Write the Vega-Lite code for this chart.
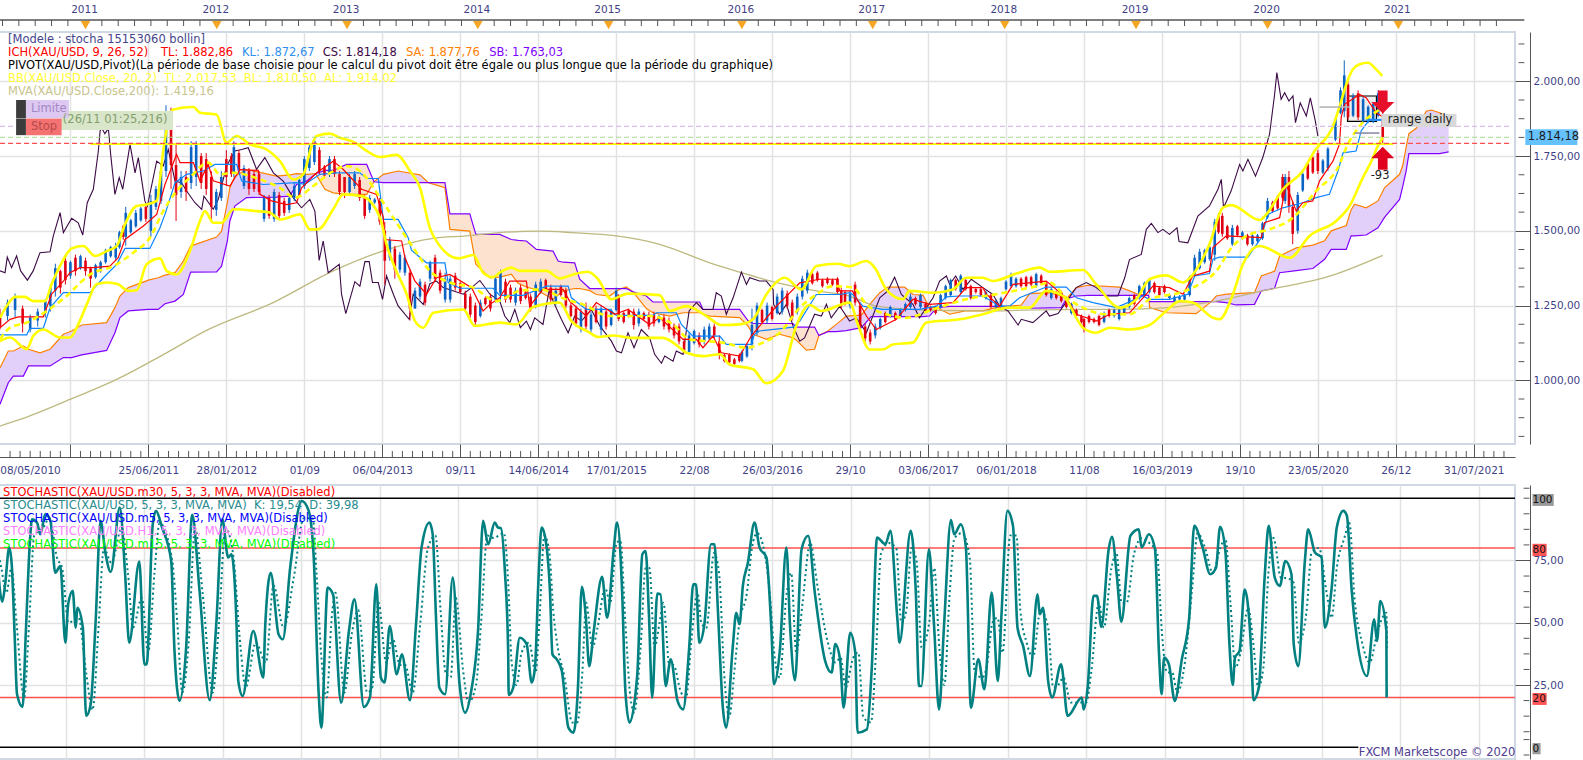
{
"$schema":"https://vega.github.io/schema/vega-lite/v6.json",
"background":"white",
"padding":{"left":-12,"top":4,"right":0,"bottom":0},
"bounds":"flush",
"spacing":41,
"resolve":{"scale":{"color":"independent"}},
"config":{"view":{"stroke":"#cfd8e3","strokeWidth":2},"text":{"font":"DejaVu Sans","fontSize":11.5},"axis":{"labelFont":"DejaVu Sans","labelFontSize":10.5,"labelColor":"#3f3f88","title":null}},
"datasets":{
"cloud":[{"w":0,"a":1042,"b":920},{"w":3.3,"a":1098,"b":992},{"w":5.3,"a":1098,"b":1014},{"w":9.3,"a":1115,"b":1014},{"w":11.3,"a":1104,"b":1048},{"w":15.9,"a":1092,"b":1048},{"w":19.9,"a":1104,"b":1048},{"w":25.2,"a":1154,"b":1076},{"w":28.5,"a":1165,"b":1076},{"w":32.5,"a":1185,"b":1085},{"w":42.4,"a":1193,"b":1100},{"w":45.7,"a":1243,"b":1159},{"w":47.7,"a":1282,"b":1210},{"w":51,"a":1310,"b":1232},{"w":59,"a":1335,"b":1237},{"w":62.9,"a":1343,"b":1237},{"w":65.6,"a":1352,"b":1256},{"w":69.6,"a":1360,"b":1265},{"w":72.9,"a":1399,"b":1287},{"w":75.8,"a":1449,"b":1362},{"w":86.1,"a":1479,"b":1363},{"w":88.1,"a":1499,"b":1382},{"w":90.4,"a":1594,"b":1466},{"w":91.4,"a":1644,"b":1533},{"w":93.4,"a":1683,"b":1583},{"w":98,"a":1705,"b":1611},{"w":110,"a":1683,"b":1613},{"w":115.3,"a":1687,"b":1616},{"w":117.9,"a":1691,"b":1655},{"w":121.9,"a":1689,"b":1666},{"w":125.5,"a":1691,"b":1691},{"w":129.2,"a":1639,"b":1702},{"w":132.5,"a":1627,"b":1702},{"w":137.8,"a":1622,"b":1722},{"w":145.8,"a":1622,"b":1722},{"w":148.7,"a":1664,"b":1664},{"w":152.4,"a":1689,"b":1661},{"w":158.3,"a":1700,"b":1661},{"w":167,"a":1687,"b":1661},{"w":170.3,"a":1661,"b":1661},{"w":176.9,"a":1644,"b":1661},{"w":178.9,"a":1505,"b":1557},{"w":186.8,"a":1499,"b":1557},{"w":189.2,"a":1388,"b":1488},{"w":194.8,"a":1343,"b":1488},{"w":198.7,"a":1345,"b":1488},{"w":203.3,"a":1355,"b":1471},{"w":206,"a":1325,"b":1468},{"w":209.3,"a":1312,"b":1466},{"w":213.3,"a":1303,"b":1438},{"w":219.9,"a":1271,"b":1432},{"w":221.9,"a":1285,"b":1399},{"w":223.9,"a":1299,"b":1395},{"w":228.5,"a":1307,"b":1393},{"w":230.5,"a":1307,"b":1338},{"w":234.5,"a":1300,"b":1307},{"w":237.1,"a":1287,"b":1307},{"w":242.4,"a":1282,"b":1307},{"w":245.1,"a":1299,"b":1307},{"w":247.1,"a":1307,"b":1307},{"w":249,"a":1312,"b":1307},{"w":251.7,"a":1296,"b":1296},{"w":257,"a":1240,"b":1282},{"w":259.6,"a":1226,"b":1262},{"w":266.3,"a":1215,"b":1262},{"w":271.6,"a":1226,"b":1262},{"w":278.2,"a":1226,"b":1262},{"w":279.5,"a":1222,"b":1237},{"w":282.2,"a":1215,"b":1237},{"w":294.1,"a":1210,"b":1237},{"w":297.4,"a":1182,"b":1200},{"w":299.4,"a":1154,"b":1190},{"w":304.7,"a":1137,"b":1190},{"w":310,"a":1154,"b":1190},{"w":315.3,"a":1142,"b":1190},{"w":316.6,"a":1135,"b":1178},{"w":320.6,"a":1101,"b":1178},{"w":323.9,"a":1104,"b":1178},{"w":325.6,"a":1150,"b":1150},{"w":329.2,"a":1165,"b":1163},{"w":332.5,"a":1187,"b":1163},{"w":336.5,"a":1215,"b":1166},{"w":342.5,"a":1218,"b":1176},{"w":346.4,"a":1260,"b":1213},{"w":349.8,"a":1293,"b":1213},{"w":353.1,"a":1312,"b":1213},{"w":359.7,"a":1312,"b":1213},{"w":363,"a":1287,"b":1213},{"w":367,"a":1285,"b":1213},{"w":369.6,"a":1243,"b":1215},{"w":372.5,"a":1243,"b":1243},{"w":377.6,"a":1221,"b":1247},{"w":384.2,"a":1233,"b":1247},{"w":390.8,"a":1232,"b":1247},{"w":396.1,"a":1243,"b":1247},{"w":400.8,"a":1247,"b":1247},{"w":406.1,"a":1252,"b":1241},{"w":409.4,"a":1290,"b":1241},{"w":417.3,"a":1293,"b":1242},{"w":422,"a":1282,"b":1243},{"w":424,"a":1272,"b":1272},{"w":428,"a":1310,"b":1282},{"w":432.6,"a":1318,"b":1284},{"w":445.2,"a":1312,"b":1284},{"w":449.2,"a":1299,"b":1284},{"w":452.5,"a":1288,"b":1284},{"w":456.7,"a":1284,"b":1284},{"w":457.1,"a":1243,"b":1263},{"w":463.7,"a":1226,"b":1263},{"w":475.6,"a":1223,"b":1263},{"w":480.3,"a":1254,"b":1263},{"w":481.6,"a":1263,"b":1263},{"w":483.6,"a":1282,"b":1263},{"w":487.6,"a":1288,"b":1260},{"w":491.5,"a":1290,"b":1252},{"w":498.8,"a":1293,"b":1254},{"w":501.5,"a":1349,"b":1299},{"w":506.8,"a":1365,"b":1308},{"w":508.8,"a":1416,"b":1360},{"w":515.4,"a":1443,"b":1367},{"w":522,"a":1452,"b":1374},{"w":526.7,"a":1467,"b":1405},{"w":529.3,"a":1500,"b":1438},{"w":535.3,"a":1518,"b":1438},{"w":537.2,"a":1570,"b":1483},{"w":538.6,"a":1589,"b":1483},{"w":543.2,"a":1577,"b":1486},{"w":547.9,"a":1600,"b":1510},{"w":550.5,"a":1644,"b":1545},{"w":556.5,"a":1689,"b":1605},{"w":557.8,"a":1720,"b":1650},{"w":559.1,"a":1780,"b":1700},{"w":560.2,"a":1825,"b":1758},{"w":563.1,"a":1843,"b":1758},{"w":567.1,"a":1900,"b":1758},{"w":569.1,"a":1904,"b":1758},{"w":572.4,"a":1895,"b":1758},{"w":576,"a":1880,"b":1764}],
"ma":[{"w":0,"p":847},{"w":8,"p":869},{"w":27.8,"p":936},{"w":46.4,"p":1003},{"w":66.2,"p":1092},{"w":82.1,"p":1167},{"w":108.6,"p":1260},{"w":132.5,"p":1366},{"w":152.4,"p":1433},{"w":172.2,"p":1475},{"w":185.5,"p":1483},{"w":198.7,"p":1494},{"w":214.6,"p":1499},{"w":227.8,"p":1494},{"w":245,"p":1483},{"w":262.3,"p":1455},{"w":282.2,"p":1393},{"w":294.1,"p":1362},{"w":307.3,"p":1330},{"w":324.6,"p":1299},{"w":337.8,"p":1282},{"w":348.4,"p":1248},{"w":370.9,"p":1234},{"w":397.4,"p":1232},{"w":404,"p":1234},{"w":457,"p":1240},{"w":483.6,"p":1265},{"w":502.1,"p":1299},{"w":530,"p":1352},{"w":549.8,"p":1418}],
"chikou":[{"w":0,"p":1366},{"w":2,"p":1360},{"w":2.9,"p":1412},{"w":4.6,"p":1377},{"w":6.6,"p":1416},{"w":8.2,"p":1366},{"w":10.9,"p":1335},{"w":13.2,"p":1366},{"w":15.9,"p":1427},{"w":19.9,"p":1430},{"w":21.2,"p":1483},{"w":23.9,"p":1561},{"w":25.2,"p":1494},{"w":28.5,"p":1542},{"w":31.1,"p":1527},{"w":32.9,"p":1486},{"w":34.7,"p":1594},{"w":37.1,"p":1639},{"w":39.1,"p":1767},{"w":39.8,"p":1834},{"w":40.4,"p":1845},{"w":41.7,"p":1825},{"w":43.1,"p":1842},{"w":44,"p":1756},{"w":45.7,"p":1622},{"w":47.4,"p":1678},{"w":48.8,"p":1639},{"w":51.7,"p":1789},{"w":53.7,"p":1694},{"w":55,"p":1745},{"w":57.6,"p":1600},{"w":58.6,"p":1583},{"w":62.3,"p":1733},{"w":64.9,"p":1717},{"w":66.9,"p":1772},{"w":69.6,"p":1666},{"w":72.2,"p":1661},{"w":74.2,"p":1633},{"w":77.5,"p":1594},{"w":80.2,"p":1572},{"w":81.1,"p":1616},{"w":84.8,"p":1572},{"w":86.8,"p":1605},{"w":90.1,"p":1717},{"w":93.4,"p":1767},{"w":96.1,"p":1772},{"w":98.7,"p":1778},{"w":102,"p":1706},{"w":105.3,"p":1745},{"w":108.7,"p":1694},{"w":112.6,"p":1666},{"w":116.6,"p":1611},{"w":119.9,"p":1577},{"w":123.2,"p":1605},{"w":125.2,"p":1566},{"w":125.9,"p":1499},{"w":126.9,"p":1401},{"w":128.5,"p":1466},{"w":130.5,"p":1360},{"w":134.9,"p":1388},{"w":135.8,"p":1288},{"w":137.5,"p":1223},{"w":141.1,"p":1330},{"w":143.1,"p":1315},{"w":145.1,"p":1397},{"w":146.8,"p":1397},{"w":148.1,"p":1327},{"w":150.4,"p":1327},{"w":152.1,"p":1271},{"w":153.7,"p":1349},{"w":156.4,"p":1288},{"w":158.3,"p":1249},{"w":162.7,"p":1204},{"w":164.3,"p":1288},{"w":168.3,"p":1254},{"w":170.9,"p":1323},{"w":173.6,"p":1332},{"w":176.2,"p":1310},{"w":184.2,"p":1288},{"w":187.5,"p":1310},{"w":190.8,"p":1334},{"w":194.8,"p":1288},{"w":198.7,"p":1265},{"w":200.7,"p":1215},{"w":202.7,"p":1193},{"w":204.7,"p":1237},{"w":206.9,"p":1176},{"w":209.3,"p":1198},{"w":210.9,"p":1170},{"w":212.6,"p":1209},{"w":215.9,"p":1187},{"w":218.3,"p":1299},{"w":219.9,"p":1265},{"w":223.2,"p":1204},{"w":225.9,"p":1159},{"w":228.5,"p":1215},{"w":231.2,"p":1198},{"w":235.1,"p":1237},{"w":238.5,"p":1182},{"w":243.1,"p":1131},{"w":245.1,"p":1098},{"w":247.1,"p":1092},{"w":249.7,"p":1159},{"w":252.1,"p":1109},{"w":255,"p":1170},{"w":258.3,"p":1142},{"w":260.3,"p":1087},{"w":263,"p":1057},{"w":264.3,"p":1081},{"w":267.6,"p":1064},{"w":268.9,"p":1098},{"w":271.6,"p":1087},{"w":274,"p":1232},{"w":276.9,"p":1260},{"w":279.5,"p":1237},{"w":283.5,"p":1237},{"w":284.8,"p":1293},{"w":286.8,"p":1282},{"w":288.8,"p":1221},{"w":291.5,"p":1276},{"w":294.8,"p":1362},{"w":296.8,"p":1321},{"w":298.1,"p":1343},{"w":302,"p":1332},{"w":304.7,"p":1332},{"w":307.4,"p":1304},{"w":307.6,"p":1254},{"w":310,"p":1221},{"w":312.7,"p":1254},{"w":315.3,"p":1182},{"w":318,"p":1131},{"w":319.9,"p":1142},{"w":323.9,"p":1221},{"w":326.6,"p":1215},{"w":328.6,"p":1254},{"w":330.5,"p":1209},{"w":333.9,"p":1248},{"w":337.8,"p":1198},{"w":340.5,"p":1209},{"w":344.5,"p":1159},{"w":349.8,"p":1276},{"w":353,"p":1299},{"w":355.7,"p":1345},{"w":358.4,"p":1287},{"w":363,"p":1254},{"w":365.6,"p":1209},{"w":371,"p":1276},{"w":373.6,"p":1332},{"w":376.3,"p":1349},{"w":377.6,"p":1321},{"w":380,"p":1349},{"w":382.9,"p":1304},{"w":386.2,"p":1338},{"w":390.8,"p":1310},{"w":394.8,"p":1287},{"w":397.5,"p":1248},{"w":400.8,"p":1232},{"w":404.8,"p":1185},{"w":406.1,"p":1204},{"w":410.7,"p":1193},{"w":416,"p":1232},{"w":417.3,"p":1215},{"w":420.7,"p":1223},{"w":423.3,"p":1254},{"w":427.9,"p":1310},{"w":431.9,"p":1327},{"w":435.9,"p":1310},{"w":439.9,"p":1282},{"w":444.5,"p":1282},{"w":447.2,"p":1343},{"w":449.1,"p":1404},{"w":453.8,"p":1421},{"w":455.8,"p":1505},{"w":457.8,"p":1525},{"w":460.4,"p":1494},{"w":462.4,"p":1505},{"w":465,"p":1488},{"w":468,"p":1510},{"w":468.8,"p":1464},{"w":472.3,"p":1460},{"w":476.3,"p":1549},{"w":480.9,"p":1583},{"w":484.3,"p":1639},{"w":485.6,"p":1672},{"w":486.5,"p":1577},{"w":489.5,"p":1633},{"w":492.9,"p":1722},{"w":494.2,"p":1700},{"w":496.2,"p":1739},{"w":499.2,"p":1683},{"w":502.1,"p":1745},{"w":504.8,"p":1823},{"w":506.8,"p":1956},{"w":507.7,"p":2029},{"w":509.4,"p":1940},{"w":510.8,"p":1962},{"w":512.5,"p":1934},{"w":514.1,"p":1951},{"w":515.1,"p":1862},{"w":517,"p":1928},{"w":519.4,"p":1884},{"w":521,"p":1945},{"w":523,"p":1867},{"w":524,"p":1817}],
"up":[{"w":0,"p":1209},{"w":2.7,"p":1249},{"w":6,"p":1279},{"w":9.9,"p":1279},{"w":13.2,"p":1265},{"w":17.9,"p":1265},{"w":20.5,"p":1321},{"w":24.5,"p":1393},{"w":28.5,"p":1441},{"w":33.1,"p":1449},{"w":37.8,"p":1416},{"w":42.4,"p":1432},{"w":46.4,"p":1449},{"w":49.7,"p":1522},{"w":54.3,"p":1583},{"w":58.3,"p":1588},{"w":62.3,"p":1600},{"w":64.9,"p":1767},{"w":66.9,"p":1867},{"w":68.9,"p":1906},{"w":76.9,"p":1914},{"w":79.5,"p":1895},{"w":86.1,"p":1889},{"w":90.1,"p":1795},{"w":94.1,"p":1817},{"w":99.4,"p":1789},{"w":106,"p":1772},{"w":111.3,"p":1733},{"w":116.6,"p":1672},{"w":120.6,"p":1689},{"w":123.9,"p":1784},{"w":125.9,"p":1817},{"w":131.2,"p":1825},{"w":135.2,"p":1811},{"w":141.1,"p":1795},{"w":145.8,"p":1767},{"w":151.1,"p":1747},{"w":157.7,"p":1754},{"w":163,"p":1700},{"w":167,"p":1644},{"w":170.9,"p":1510},{"w":174.9,"p":1449},{"w":182.2,"p":1408},{"w":188.2,"p":1419},{"w":192.1,"p":1360},{"w":196.1,"p":1345},{"w":198.7,"p":1360},{"w":203.3,"p":1377},{"w":206.6,"p":1366},{"w":217.3,"p":1366},{"w":222.5,"p":1341},{"w":227.9,"p":1354},{"w":233.8,"p":1363},{"w":237.8,"p":1338},{"w":243.1,"p":1271},{"w":249.7,"p":1290},{"w":262.3,"p":1285},{"w":266.3,"p":1232},{"w":272.9,"p":1248},{"w":280.9,"p":1215},{"w":286.8,"p":1185},{"w":294.1,"p":1187},{"w":299.4,"p":1204},{"w":304.7,"p":1287},{"w":312,"p":1343},{"w":318.6,"p":1304},{"w":324.6,"p":1382},{"w":333.2,"p":1390},{"w":337.8,"p":1382},{"w":344.5,"p":1399},{"w":347.8,"p":1377},{"w":352.4,"p":1304},{"w":359,"p":1271},{"w":361.7,"p":1299},{"w":370.9,"p":1293},{"w":378.9,"p":1304},{"w":384.2,"p":1343},{"w":390.8,"p":1343},{"w":394.8,"p":1332},{"w":404.1,"p":1357},{"w":413.4,"p":1377},{"w":417.3,"p":1363},{"w":430.6,"p":1369},{"w":435.9,"p":1321},{"w":445.2,"p":1243},{"w":451.8,"p":1271},{"w":457.1,"p":1338},{"w":463.7,"p":1351},{"w":470.4,"p":1327},{"w":474.3,"p":1354},{"w":480.9,"p":1455},{"w":486.2,"p":1577},{"w":489.6,"p":1586},{"w":500.8,"p":1536},{"w":503.5,"p":1555},{"w":510.1,"p":1639},{"w":518,"p":1700},{"w":522.7,"p":1767},{"w":530,"p":1850},{"w":533.3,"p":1934},{"w":535.3,"p":1990},{"w":537.9,"p":2040},{"w":540.6,"p":2057},{"w":543.9,"p":2062},{"w":547.2,"p":2040},{"w":549.6,"p":2018}],
"lo":[{"w":0,"p":1131},{"w":4,"p":1143},{"w":10.6,"p":1104},{"w":13.2,"p":1148},{"w":17.2,"p":1170},{"w":23.9,"p":1143},{"w":27.8,"p":1143},{"w":31.1,"p":1187},{"w":34.5,"p":1254},{"w":38.4,"p":1321},{"w":42.4,"p":1327},{"w":47,"p":1321},{"w":51,"p":1299},{"w":54.3,"p":1301},{"w":58.3,"p":1388},{"w":63.6,"p":1408},{"w":66.3,"p":1366},{"w":70.2,"p":1354},{"w":75.5,"p":1432},{"w":79.5,"p":1533},{"w":81.5,"p":1566},{"w":84.8,"p":1527},{"w":88.1,"p":1527},{"w":92.8,"p":1572},{"w":102,"p":1566},{"w":107.3,"p":1561},{"w":111.3,"p":1538},{"w":119.3,"p":1555},{"w":123.2,"p":1505},{"w":126.5,"p":1505},{"w":132.5,"p":1572},{"w":136.5,"p":1622},{"w":143.8,"p":1616},{"w":151.1,"p":1544},{"w":153.7,"p":1455},{"w":157,"p":1377},{"w":161.7,"p":1288},{"w":165,"p":1198},{"w":168.3,"p":1176},{"w":172.3,"p":1226},{"w":184.2,"p":1237},{"w":188.8,"p":1182},{"w":198.7,"p":1193},{"w":205.3,"p":1187},{"w":212,"p":1245},{"w":222.5,"p":1260},{"w":227.2,"p":1198},{"w":233.8,"p":1163},{"w":237.8,"p":1145},{"w":243.8,"p":1150},{"w":251.7,"p":1142},{"w":263.6,"p":1142},{"w":270.3,"p":1109},{"w":272.9,"p":1092},{"w":279.5,"p":1081},{"w":286.2,"p":1087},{"w":290.1,"p":1053},{"w":299.4,"p":1037},{"w":304.7,"p":990},{"w":311.3,"p":1031},{"w":316.6,"p":1182},{"w":321.9,"p":1252},{"w":326.6,"p":1232},{"w":337.8,"p":1260},{"w":341.1,"p":1187},{"w":345.8,"p":1103},{"w":351,"p":1103},{"w":355,"p":1120},{"w":363,"p":1126},{"w":368.3,"p":1193},{"w":381.5,"p":1204},{"w":390.8,"p":1221},{"w":400.8,"p":1243},{"w":409.4,"p":1243},{"w":416,"p":1299},{"w":422.7,"p":1282},{"w":430.6,"p":1176},{"w":435.9,"p":1159},{"w":441.2,"p":1176},{"w":449.2,"p":1170},{"w":457.1,"p":1185},{"w":463.7,"p":1232},{"w":469,"p":1265},{"w":474.3,"p":1260},{"w":482.3,"p":1209},{"w":484.9,"p":1204},{"w":490.2,"p":1287},{"w":494.2,"p":1388},{"w":500.8,"p":1449},{"w":512.8,"p":1410},{"w":520.7,"p":1483},{"w":531.3,"p":1533},{"w":536.6,"p":1583},{"w":541.9,"p":1678},{"w":545.9,"p":1744},{"w":547.2,"p":1772},{"w":549.8,"p":1812}],
"mid":[{"w":0,"p":1137},{"w":4,"p":1176},{"w":10.6,"p":1193},{"w":18.6,"p":1232},{"w":26.5,"p":1282},{"w":35.8,"p":1354},{"w":45.1,"p":1382},{"w":53,"p":1427},{"w":59.6,"p":1477},{"w":64.9,"p":1566},{"w":70.2,"p":1633},{"w":75.5,"p":1678},{"w":82.8,"p":1728},{"w":87.5,"p":1689},{"w":92.8,"p":1694},{"w":103.4,"p":1672},{"w":111.3,"p":1644},{"w":117.3,"p":1611},{"w":124.6,"p":1650},{"w":132.5,"p":1700},{"w":137.8,"p":1717},{"w":143.1,"p":1700},{"w":152.4,"p":1594},{"w":159,"p":1510},{"w":164.3,"p":1444},{"w":170.9,"p":1366},{"w":178.9,"p":1327},{"w":188.2,"p":1310},{"w":197.4,"p":1265},{"w":206.6,"p":1299},{"w":214.6,"p":1304},{"w":225.2,"p":1270},{"w":231.8,"p":1254},{"w":242.4,"p":1215},{"w":258.3,"p":1215},{"w":267.6,"p":1187},{"w":274.2,"p":1137},{"w":280.9,"p":1131},{"w":287.5,"p":1126},{"w":296.8,"p":1109},{"w":303.4,"p":1126},{"w":310,"p":1159},{"w":318,"p":1243},{"w":324.6,"p":1287},{"w":331.2,"p":1315},{"w":339.1,"p":1310},{"w":344.5,"p":1254},{"w":352.4,"p":1221},{"w":360.3,"p":1209},{"w":370.9,"p":1237},{"w":384.2,"p":1271},{"w":397.4,"p":1290},{"w":412,"p":1315},{"w":417.3,"p":1327},{"w":424,"p":1276},{"w":430.6,"p":1243},{"w":439.9,"p":1221},{"w":449.2,"p":1221},{"w":457.1,"p":1271},{"w":469,"p":1293},{"w":474.3,"p":1310},{"w":483.6,"p":1365},{"w":490.2,"p":1449},{"w":496.9,"p":1488},{"w":504.8,"p":1505},{"w":514.1,"p":1544},{"w":523.3,"p":1633},{"w":532.6,"p":1722},{"w":535.3,"p":1778},{"w":540.6,"p":1850},{"w":548.5,"p":1906},{"w":549.8,"p":1914}],
"kijun":[{"w":0,"p":1152},{"w":10.6,"p":1152},{"w":11.9,"p":1174},{"w":17.2,"p":1174},{"w":19.9,"p":1243},{"w":25.2,"p":1293},{"w":35.8,"p":1293},{"w":41.1,"p":1343},{"w":46.4,"p":1388},{"w":49.7,"p":1441},{"w":59.6,"p":1441},{"w":63.6,"p":1510},{"w":65.6,"p":1555},{"w":69.6,"p":1661},{"w":74.2,"p":1689},{"w":80.8,"p":1700},{"w":85.5,"p":1722},{"w":94.1,"p":1722},{"w":96.1,"p":1667},{"w":104.7,"p":1655},{"w":117.9,"p":1661},{"w":121.2,"p":1655},{"w":127.2,"p":1689},{"w":133.8,"p":1694},{"w":143.1,"p":1694},{"w":145.8,"p":1675},{"w":150.4,"p":1675},{"w":152.4,"p":1538},{"w":158.3,"p":1538},{"w":162.3,"p":1477},{"w":163.6,"p":1435},{"w":169.6,"p":1393},{"w":176.9,"p":1393},{"w":178.2,"p":1327},{"w":182.9,"p":1308},{"w":196.1,"p":1308},{"w":198.7,"p":1284},{"w":208,"p":1284},{"w":217.3,"p":1315},{"w":225.9,"p":1315},{"w":227.2,"p":1276},{"w":233.1,"p":1237},{"w":242.4,"p":1237},{"w":245.1,"p":1217},{"w":259.6,"p":1217},{"w":261,"p":1226},{"w":268.9,"p":1226},{"w":270.9,"p":1187},{"w":275.5,"p":1148},{"w":286.2,"p":1148},{"w":288.8,"p":1120},{"w":298.7,"p":1120},{"w":300,"p":1154},{"w":302,"p":1165},{"w":311.3,"p":1174},{"w":315.3,"p":1178},{"w":318,"p":1198},{"w":324.6,"p":1287},{"w":333.9,"p":1287},{"w":337.8,"p":1293},{"w":339.1,"p":1287},{"w":343.1,"p":1248},{"w":351,"p":1237},{"w":365.6,"p":1237},{"w":372.3,"p":1248},{"w":376.3,"p":1279},{"w":381.6,"p":1282},{"w":390.8,"p":1282},{"w":397.5,"p":1248},{"w":401.4,"p":1248},{"w":405.4,"p":1276},{"w":416,"p":1312},{"w":424,"p":1312},{"w":428,"p":1276},{"w":434.6,"p":1260},{"w":443.9,"p":1243},{"w":454.4,"p":1282},{"w":457.1,"p":1271},{"w":465,"p":1271},{"w":472.3,"p":1288},{"w":475,"p":1349},{"w":480.9,"p":1357},{"w":482.3,"p":1405},{"w":484.9,"p":1412},{"w":496.2,"p":1412},{"w":501.5,"p":1477},{"w":504.1,"p":1555},{"w":510.1,"p":1577},{"w":518,"p":1594},{"w":523.3,"p":1611},{"w":528.6,"p":1622},{"w":532,"p":1700},{"w":534,"p":1761},{"w":539.2,"p":1767},{"w":541.2,"p":1834},{"w":544.6,"p":1873},{"w":549.9,"p":1873}],
"tenkan":[{"w":0,"p":1176},{"w":4,"p":1204},{"w":7.3,"p":1212},{"w":17.2,"p":1212},{"w":20.5,"p":1288},{"w":25.2,"p":1332},{"w":27.8,"p":1360},{"w":31.8,"p":1377},{"w":37.1,"p":1377},{"w":43.7,"p":1382},{"w":47,"p":1410},{"w":49.7,"p":1471},{"w":57,"p":1516},{"w":62.3,"p":1555},{"w":65.6,"p":1655},{"w":70.2,"p":1756},{"w":71.6,"p":1728},{"w":76.9,"p":1728},{"w":79.5,"p":1667},{"w":82.8,"p":1722},{"w":84.8,"p":1667},{"w":91.4,"p":1650},{"w":95.4,"p":1705},{"w":102.7,"p":1702},{"w":103.4,"p":1622},{"w":108,"p":1600},{"w":114,"p":1588},{"w":117.9,"p":1594},{"w":119.9,"p":1644},{"w":125.9,"p":1694},{"w":132.5,"p":1733},{"w":136.5,"p":1705},{"w":143.8,"p":1639},{"w":149.7,"p":1622},{"w":152.4,"p":1544},{"w":153,"p":1471},{"w":159.7,"p":1466},{"w":161,"p":1410},{"w":165,"p":1332},{"w":169.6,"p":1288},{"w":173.6,"p":1343},{"w":178.9,"p":1354},{"w":187.5,"p":1310},{"w":192.1,"p":1232},{"w":194.8,"p":1254},{"w":198.7,"p":1276},{"w":202.7,"p":1332},{"w":209.3,"p":1332},{"w":210.6,"p":1248},{"w":215.9,"p":1304},{"w":223.9,"p":1304},{"w":226.5,"p":1265},{"w":233.1,"p":1215},{"w":237.1,"p":1260},{"w":244.4,"p":1221},{"w":249.7,"p":1237},{"w":258.3,"p":1187},{"w":262.3,"p":1210},{"w":271.6,"p":1137},{"w":276.9,"p":1137},{"w":279.5,"p":1109},{"w":283.5,"p":1148},{"w":286.8,"p":1092},{"w":294.1,"p":1081},{"w":298.7,"p":1148},{"w":308.7,"p":1248},{"w":318,"p":1326},{"w":325.9,"p":1338},{"w":332.5,"p":1338},{"w":333.9,"p":1299},{"w":338.9,"p":1299},{"w":344.5,"p":1215},{"w":348.4,"p":1170},{"w":356.4,"p":1204},{"w":363,"p":1271},{"w":369.6,"p":1254},{"w":378.9,"p":1260},{"w":384.2,"p":1310},{"w":390.8,"p":1310},{"w":392.2,"p":1288},{"w":397.5,"p":1248},{"w":402.8,"p":1321},{"w":416,"p":1332},{"w":424,"p":1276},{"w":428,"p":1221},{"w":435.9,"p":1198},{"w":441.2,"p":1221},{"w":449.2,"p":1226},{"w":455.8,"p":1288},{"w":458.4,"p":1315},{"w":465,"p":1310},{"w":470.4,"p":1288},{"w":474.3,"p":1349},{"w":480.9,"p":1365},{"w":482.3,"p":1444},{"w":487.6,"p":1483},{"w":501.5,"p":1477},{"w":502.8,"p":1527},{"w":508.8,"p":1544},{"w":511.4,"p":1655},{"w":515.4,"p":1566},{"w":518,"p":1594},{"w":522,"p":1600},{"w":524.7,"p":1667},{"w":530,"p":1733},{"w":532.6,"p":1790},{"w":533.3,"p":1880},{"w":534.6,"p":1923},{"w":540.6,"p":1956},{"w":543.2,"p":1945},{"w":547.2,"p":1895},{"w":549.6,"p":1882}],
"bars":[{"w":0,"l":1170,"h":1240,"o":1210,"c":1180},{"w":3,"l":1200,"h":1270,"o":1215,"c":1260},{"w":6,"l":1210,"h":1290,"o":1235,"c":1275},{"w":9,"l":1160,"h":1250,"o":1240,"c":1190},{"w":12,"l":1160,"h":1220,"o":1170,"c":1210},{"w":15,"l":1180,"h":1240,"o":1200,"c":1230},{"w":18,"l":1210,"h":1270,"o":1225,"c":1265},{"w":20,"l":1230,"h":1320,"o":1250,"c":1310},{"w":22,"l":1280,"h":1390,"o":1300,"c":1375},{"w":24,"l":1290,"h":1370,"o":1365,"c":1310},{"w":26,"l":1320,"h":1420,"o":1400,"c":1335},{"w":28,"l":1340,"h":1400,"o":1350,"c":1395},{"w":30,"l":1350,"h":1420,"o":1410,"c":1365},{"w":32,"l":1370,"h":1420,"o":1375,"c":1415},{"w":34,"l":1350,"h":1410,"o":1400,"c":1365},{"w":36,"l":1310,"h":1380,"o":1375,"c":1340},{"w":38,"l":1340,"h":1390,"o":1345,"c":1385},{"w":40,"l":1360,"h":1400,"o":1365,"c":1395},{"w":42,"l":1390,"h":1440,"o":1395,"c":1435},{"w":44,"l":1410,"h":1450,"o":1415,"c":1445},{"w":46,"l":1400,"h":1460,"o":1410,"c":1450},{"w":47.5,"l":1440,"h":1500,"o":1445,"c":1495},{"w":49,"l":1470,"h":1520,"o":1515,"c":1480},{"w":50,"l":1450,"h":1580,"o":1480,"c":1560},{"w":52,"l":1490,"h":1540,"o":1495,"c":1535},{"w":54,"l":1510,"h":1570,"o":1515,"c":1560},{"w":56,"l":1530,"h":1580,"o":1535,"c":1575},{"w":58,"l":1530,"h":1590,"o":1580,"c":1540},{"w":60,"l":1480,"h":1620,"o":1500,"c":1600},{"w":62,"l":1570,"h":1650,"o":1580,"c":1640},{"w":64,"l":1590,"h":1720,"o":1600,"c":1700},{"w":66,"l":1680,"h":1920,"o":1700,"c":1880},{"w":68,"l":1640,"h":1912,"o":1880,"c":1720},{"w":70,"l":1533,"h":1790,"o":1720,"c":1620},{"w":72,"l":1610,"h":1700,"o":1630,"c":1680},{"w":74,"l":1600,"h":1700,"o":1680,"c":1630},{"w":76,"l":1640,"h":1800,"o":1660,"c":1780},{"w":78,"l":1650,"h":1800,"o":1680,"c":1790},{"w":80,"l":1640,"h":1760,"o":1750,"c":1660},{"w":82,"l":1620,"h":1760,"o":1740,"c":1640},{"w":84,"l":1530,"h":1700,"o":1680,"c":1580},{"w":86,"l":1550,"h":1640,"o":1570,"c":1630},{"w":88,"l":1600,"h":1700,"o":1610,"c":1680},{"w":90,"l":1650,"h":1770,"o":1740,"c":1680},{"w":92,"l":1680,"h":1760,"o":1750,"c":1690},{"w":93,"l":1680,"h":1800,"o":1690,"c":1780},{"w":95,"l":1690,"h":1770,"o":1760,"c":1700},{"w":97,"l":1640,"h":1720,"o":1650,"c":1710},{"w":99,"l":1620,"h":1710,"o":1700,"c":1640},{"w":101,"l":1630,"h":1700,"o":1690,"c":1640},{"w":103,"l":1620,"h":1700,"o":1690,"c":1630},{"w":105,"l":1530,"h":1620,"o":1540,"c":1610},{"w":107,"l":1540,"h":1620,"o":1610,"c":1550},{"w":109,"l":1530,"h":1640,"o":1540,"c":1630},{"w":111,"l":1540,"h":1630,"o":1620,"c":1550},{"w":113,"l":1550,"h":1610,"o":1600,"c":1560},{"w":115,"l":1560,"h":1620,"o":1570,"c":1610},{"w":117,"l":1600,"h":1660,"o":1610,"c":1650},{"w":119,"l":1610,"h":1680,"o":1620,"c":1670},{"w":121,"l":1640,"h":1750,"o":1650,"c":1740},{"w":123,"l":1700,"h":1790,"o":1710,"c":1780},{"w":125,"l":1720,"h":1810,"o":1730,"c":1800},{"w":127,"l":1690,"h":1780,"o":1770,"c":1700},{"w":129,"l":1680,"h":1720,"o":1715,"c":1685},{"w":131,"l":1680,"h":1750,"o":1690,"c":1740},{"w":133,"l":1680,"h":1750,"o":1740,"c":1690},{"w":135,"l":1620,"h":1700,"o":1690,"c":1630},{"w":137,"l":1610,"h":1680,"o":1680,"c":1630},{"w":139,"l":1620,"h":1690,"o":1630,"c":1680},{"w":141,"l":1640,"h":1700,"o":1650,"c":1690},{"w":143,"l":1600,"h":1680,"o":1670,"c":1610},{"w":145,"l":1540,"h":1620,"o":1610,"c":1550},{"w":147,"l":1560,"h":1620,"o":1570,"c":1610},{"w":149,"l":1590,"h":1610,"o":1595,"c":1605},{"w":151,"l":1520,"h":1610,"o":1600,"c":1530},{"w":153,"l":1320,"h":1530,"o":1500,"c":1400},{"w":155,"l":1400,"h":1480,"o":1410,"c":1470},{"w":157,"l":1340,"h":1450,"o":1440,"c":1370},{"w":159,"l":1360,"h":1430,"o":1370,"c":1420},{"w":161,"l":1350,"h":1420,"o":1360,"c":1410},{"w":163,"l":1200,"h":1370,"o":1360,"c":1240},{"w":165,"l":1240,"h":1310,"o":1240,"c":1300},{"w":167,"l":1270,"h":1340,"o":1280,"c":1330},{"w":169,"l":1250,"h":1330,"o":1320,"c":1260},{"w":171,"l":1330,"h":1400,"o":1340,"c":1395},{"w":173,"l":1330,"h":1420,"o":1410,"c":1340},{"w":175,"l":1290,"h":1370,"o":1360,"c":1300},{"w":177,"l":1260,"h":1360,"o":1270,"c":1340},{"w":179,"l":1260,"h":1350,"o":1270,"c":1340},{"w":181,"l":1300,"h":1360,"o":1350,"c":1310},{"w":183,"l":1290,"h":1330,"o":1325,"c":1295},{"w":185,"l":1230,"h":1300,"o":1290,"c":1240},{"w":187,"l":1210,"h":1290,"o":1280,"c":1220},{"w":189,"l":1180,"h":1260,"o":1250,"c":1195},{"w":191,"l":1210,"h":1270,"o":1215,"c":1260},{"w":193,"l":1250,"h":1280,"o":1275,"c":1255},{"w":195,"l":1230,"h":1290,"o":1280,"c":1240},{"w":197,"l":1260,"h":1350,"o":1270,"c":1340},{"w":199,"l":1260,"h":1370,"o":1290,"c":1360},{"w":201,"l":1260,"h":1340,"o":1330,"c":1270},{"w":203,"l":1260,"h":1320,"o":1310,"c":1270},{"w":205,"l":1250,"h":1310,"o":1260,"c":1300},{"w":207,"l":1255,"h":1320,"o":1310,"c":1265},{"w":209,"l":1270,"h":1300,"o":1295,"c":1275},{"w":211,"l":1230,"h":1290,"o":1280,"c":1240},{"w":213,"l":1240,"h":1330,"o":1250,"c":1320},{"w":215,"l":1290,"h":1340,"o":1295,"c":1330},{"w":217,"l":1300,"h":1340,"o":1335,"c":1305},{"w":219,"l":1260,"h":1320,"o":1310,"c":1270},{"w":221,"l":1250,"h":1310,"o":1260,"c":1300},{"w":223,"l":1280,"h":1320,"o":1315,"c":1285},{"w":225,"l":1240,"h":1310,"o":1300,"c":1250},{"w":227,"l":1210,"h":1260,"o":1250,"c":1215},{"w":229,"l":1180,"h":1250,"o":1240,"c":1190},{"w":231,"l":1160,"h":1240,"o":1170,"c":1230},{"w":233,"l":1170,"h":1260,"o":1240,"c":1180},{"w":235,"l":1160,"h":1230,"o":1170,"c":1220},{"w":237,"l":1190,"h":1250,"o":1240,"c":1195},{"w":239,"l":1150,"h":1250,"o":1170,"c":1240},{"w":241,"l":1170,"h":1240,"o":1230,"c":1180},{"w":243,"l":1180,"h":1240,"o":1185,"c":1235},{"w":245,"l":1230,"h":1310,"o":1235,"c":1300},{"w":246,"l":1198,"h":1288,"o":1285,"c":1205},{"w":248,"l":1190,"h":1230,"o":1225,"c":1195},{"w":250,"l":1210,"h":1240,"o":1235,"c":1215},{"w":252,"l":1170,"h":1240,"o":1230,"c":1185},{"w":254,"l":1180,"h":1240,"o":1190,"c":1230},{"w":256,"l":1200,"h":1230,"o":1225,"c":1205},{"w":258,"l":1170,"h":1230,"o":1220,"c":1180},{"w":260,"l":1180,"h":1230,"o":1220,"c":1190},{"w":262,"l":1190,"h":1220,"o":1195,"c":1215},{"w":264,"l":1170,"h":1220,"o":1210,"c":1180},{"w":266,"l":1160,"h":1210,"o":1200,"c":1170},{"w":268,"l":1140,"h":1190,"o":1180,"c":1150},{"w":270,"l":1120,"h":1190,"o":1180,"c":1130},{"w":272,"l":1090,"h":1140,"o":1130,"c":1100},{"w":274,"l":1085,"h":1160,"o":1095,"c":1150},{"w":276,"l":1120,"h":1170,"o":1125,"c":1165},{"w":278,"l":1110,"h":1160,"o":1150,"c":1120},{"w":280,"l":1120,"h":1180,"o":1130,"c":1170},{"w":282,"l":1130,"h":1190,"o":1140,"c":1180},{"w":284,"l":1140,"h":1190,"o":1180,"c":1150},{"w":286,"l":1070,"h":1150,"o":1130,"c":1085},{"w":288,"l":1060,"h":1090,"o":1085,"c":1065},{"w":290,"l":1050,"h":1090,"o":1085,"c":1060},{"w":292,"l":1050,"h":1075,"o":1070,"c":1055},{"w":294,"l":1060,"h":1090,"o":1085,"c":1065},{"w":295,"l":1060,"h":1100,"o":1065,"c":1095},{"w":297,"l":1075,"h":1120,"o":1080,"c":1115},{"w":299,"l":1100,"h":1240,"o":1120,"c":1185},{"w":301,"l":1150,"h":1260,"o":1160,"c":1250},{"w":303,"l":1190,"h":1240,"o":1235,"c":1195},{"w":305,"l":1190,"h":1260,"o":1200,"c":1250},{"w":307,"l":1200,"h":1250,"o":1245,"c":1205},{"w":309,"l":1220,"h":1290,"o":1225,"c":1280},{"w":311,"l":1220,"h":1310,"o":1230,"c":1300},{"w":313,"l":1240,"h":1300,"o":1290,"c":1250},{"w":315,"l":1200,"h":1270,"o":1260,"c":1210},{"w":317,"l":1220,"h":1290,"o":1230,"c":1280},{"w":319,"l":1270,"h":1350,"o":1280,"c":1340},{"w":321,"l":1290,"h":1370,"o":1300,"c":1360},{"w":323,"l":1320,"h":1360,"o":1355,"c":1325},{"w":325,"l":1330,"h":1365,"o":1360,"c":1335},{"w":327,"l":1310,"h":1340,"o":1335,"c":1315},{"w":329,"l":1320,"h":1345,"o":1340,"c":1325},{"w":331,"l":1315,"h":1340,"o":1335,"c":1320},{"w":333,"l":1290,"h":1345,"o":1340,"c":1295},{"w":334.5,"l":1240,"h":1310,"o":1300,"c":1250},{"w":336,"l":1250,"h":1300,"o":1295,"c":1255},{"w":338,"l":1240,"h":1300,"o":1250,"c":1290},{"w":340,"l":1250,"h":1330,"o":1320,"c":1260},{"w":342,"l":1170,"h":1260,"o":1250,"c":1180},{"w":344,"l":1130,"h":1190,"o":1180,"c":1140},{"w":346,"l":1120,"h":1170,"o":1160,"c":1130},{"w":348,"l":1140,"h":1190,"o":1150,"c":1180},{"w":350,"l":1170,"h":1210,"o":1175,"c":1205},{"w":352,"l":1190,"h":1230,"o":1225,"c":1195},{"w":354,"l":1210,"h":1250,"o":1215,"c":1245},{"w":356,"l":1200,"h":1230,"o":1225,"c":1205},{"w":358,"l":1210,"h":1240,"o":1215,"c":1235},{"w":360,"l":1230,"h":1260,"o":1235,"c":1255},{"w":362,"l":1240,"h":1290,"o":1245,"c":1280},{"w":364,"l":1250,"h":1280,"o":1275,"c":1255},{"w":366,"l":1240,"h":1290,"o":1245,"c":1285},{"w":368,"l":1230,"h":1260,"o":1255,"c":1235},{"w":370,"l":1230,"h":1250,"o":1245,"c":1235},{"w":372,"l":1220,"h":1250,"o":1245,"c":1225},{"w":374,"l":1240,"h":1290,"o":1245,"c":1285},{"w":376,"l":1270,"h":1320,"o":1275,"c":1315},{"w":378,"l":1280,"h":1340,"o":1285,"c":1335},{"w":380,"l":1300,"h":1340,"o":1335,"c":1305},{"w":382,"l":1290,"h":1355,"o":1295,"c":1350},{"w":384,"l":1300,"h":1340,"o":1335,"c":1305},{"w":386,"l":1270,"h":1320,"o":1315,"c":1275},{"w":388,"l":1290,"h":1310,"o":1305,"c":1295},{"w":390,"l":1280,"h":1310,"o":1305,"c":1285},{"w":392,"l":1270,"h":1300,"o":1275,"c":1295},{"w":394,"l":1240,"h":1290,"o":1285,"c":1245},{"w":396,"l":1240,"h":1270,"o":1245,"c":1265},{"w":398,"l":1240,"h":1280,"o":1245,"c":1275},{"w":400,"l":1300,"h":1335,"o":1305,"c":1330},{"w":402,"l":1310,"h":1360,"o":1315,"c":1355},{"w":404,"l":1310,"h":1345,"o":1315,"c":1340},{"w":406,"l":1310,"h":1345,"o":1340,"c":1315},{"w":408,"l":1310,"h":1350,"o":1345,"c":1315},{"w":410,"l":1315,"h":1350,"o":1345,"c":1320},{"w":412,"l":1310,"h":1360,"o":1315,"c":1355},{"w":414,"l":1320,"h":1355,"o":1350,"c":1325},{"w":416,"l":1280,"h":1330,"o":1325,"c":1285},{"w":418,"l":1270,"h":1310,"o":1275,"c":1305},{"w":420,"l":1270,"h":1300,"o":1295,"c":1275},{"w":422,"l":1260,"h":1300,"o":1295,"c":1265},{"w":424,"l":1240,"h":1280,"o":1275,"c":1245},{"w":426,"l":1220,"h":1260,"o":1225,"c":1255},{"w":428,"l":1210,"h":1240,"o":1235,"c":1215},{"w":430,"l":1190,"h":1220,"o":1215,"c":1195},{"w":431,"l":1160,"h":1210,"o":1205,"c":1170},{"w":433,"l":1190,"h":1220,"o":1215,"c":1195},{"w":435,"l":1190,"h":1210,"o":1205,"c":1195},{"w":437,"l":1180,"h":1220,"o":1215,"c":1185},{"w":439,"l":1190,"h":1230,"o":1195,"c":1225},{"w":441,"l":1210,"h":1240,"o":1235,"c":1215},{"w":443,"l":1210,"h":1240,"o":1215,"c":1235},{"w":445,"l":1200,"h":1240,"o":1205,"c":1235},{"w":447,"l":1220,"h":1250,"o":1225,"c":1245},{"w":449,"l":1240,"h":1280,"o":1245,"c":1275},{"w":451,"l":1250,"h":1290,"o":1285,"c":1255},{"w":453,"l":1270,"h":1320,"o":1275,"c":1315},{"w":455,"l":1280,"h":1330,"o":1285,"c":1325},{"w":457,"l":1290,"h":1343,"o":1295,"c":1335},{"w":459,"l":1290,"h":1330,"o":1325,"c":1295},{"w":461,"l":1280,"h":1315,"o":1310,"c":1285},{"w":463,"l":1290,"h":1320,"o":1315,"c":1295},{"w":465,"l":1270,"h":1290,"o":1275,"c":1285},{"w":467,"l":1260,"h":1285,"o":1265,"c":1280},{"w":469,"l":1265,"h":1285,"o":1270,"c":1280},{"w":471,"l":1265,"h":1290,"o":1270,"c":1285},{"w":473,"l":1280,"h":1350,"o":1285,"c":1345},{"w":475,"l":1350,"h":1420,"o":1355,"c":1410},{"w":477,"l":1370,"h":1440,"o":1375,"c":1430},{"w":479,"l":1390,"h":1440,"o":1395,"c":1435},{"w":481,"l":1400,"h":1450,"o":1405,"c":1445},{"w":483,"l":1400,"h":1540,"o":1420,"c":1530},{"w":484.5,"l":1490,"h":1560,"o":1550,"c":1495},{"w":486,"l":1480,"h":1560,"o":1550,"c":1490},{"w":488,"l":1470,"h":1520,"o":1515,"c":1475},{"w":490,"l":1450,"h":1520,"o":1455,"c":1510},{"w":492,"l":1480,"h":1520,"o":1515,"c":1485},{"w":494,"l":1470,"h":1500,"o":1475,"c":1495},{"w":496,"l":1450,"h":1490,"o":1485,"c":1455},{"w":498,"l":1450,"h":1490,"o":1455,"c":1485},{"w":500,"l":1460,"h":1490,"o":1465,"c":1485},{"w":502,"l":1470,"h":1530,"o":1475,"c":1525},{"w":504,"l":1540,"h":1610,"o":1545,"c":1600},{"w":506,"l":1560,"h":1600,"o":1595,"c":1565},{"w":508,"l":1570,"h":1620,"o":1615,"c":1575},{"w":510,"l":1600,"h":1690,"o":1680,"c":1610},{"w":511,"l":1590,"h":1690,"o":1600,"c":1680},{"w":512.5,"l":1560,"h":1700,"o":1680,"c":1580},{"w":514,"l":1455,"h":1600,"o":1580,"c":1490},{"w":516,"l":1490,"h":1630,"o":1500,"c":1620},{"w":518,"l":1630,"h":1700,"o":1635,"c":1690},{"w":520,"l":1670,"h":1730,"o":1725,"c":1675},{"w":522,"l":1690,"h":1750,"o":1745,"c":1695},{"w":524,"l":1690,"h":1770,"o":1760,"c":1700},{"w":526,"l":1690,"h":1740,"o":1695,"c":1735},{"w":528,"l":1700,"h":1780,"o":1710,"c":1775},{"w":531,"l":1800,"h":1880,"o":1805,"c":1875},{"w":533,"l":1890,"h":1980,"o":1895,"c":1970},{"w":534.5,"l":1880,"h":2070,"o":1900,"c":2020},{"w":536,"l":1870,"h":2000,"o":1990,"c":1880},{"w":538,"l":1880,"h":1960,"o":1885,"c":1950},{"w":540,"l":1870,"h":1970,"o":1960,"c":1880},{"w":542,"l":1860,"h":1950,"o":1865,"c":1940},{"w":544,"l":1860,"h":1920,"o":1865,"c":1915},{"w":546,"l":1860,"h":1930,"o":1865,"c":1925},{"w":548,"l":1880,"h":1970,"o":1885,"c":1960},{"w":549.8,"l":1790,"h":1900,"o":1875,"c":1814}],
"k":[{"w":0,"v":90.9},{"w":0.7,"v":85.5},{"w":1.6,"v":66.8},{"w":2.9,"v":58.5},{"w":4,"v":65.4},{"w":5.6,"v":80.2},{"w":6.6,"v":73.5},{"w":7.7,"v":46.7},{"w":8.7,"v":21.3},{"w":10.9,"v":16.2},{"w":12.2,"v":46.7},{"w":13.8,"v":82.8},{"w":14.6,"v":91.5},{"w":16.6,"v":90.2},{"w":17.9,"v":85.5},{"w":19.9,"v":93.6},{"w":21.9,"v":90.9},{"w":23.8,"v":70.1},{"w":25.8,"v":72.8},{"w":27.8,"v":42},{"w":28.9,"v":57.4},{"w":30.7,"v":62.8},{"w":31.9,"v":48},{"w":32.5,"v":56},{"w":34.7,"v":48},{"w":36,"v":12.6},{"w":37.8,"v":17.3},{"w":39.7,"v":49.4},{"w":41.7,"v":90.9},{"w":43.7,"v":77.5},{"w":45.7,"v":70.4},{"w":49.3,"v":96.2},{"w":51.4,"v":69.5},{"w":53,"v":42},{"w":57,"v":74.6},{"w":59,"v":33.3},{"w":59.9,"v":33.3},{"w":62.3,"v":89.5},{"w":63.6,"v":94.9},{"w":66,"v":88.2},{"w":69.6,"v":74.8},{"w":70.9,"v":38.7},{"w":72.9,"v":18.6},{"w":75.5,"v":40},{"w":77.9,"v":93.3},{"w":80.8,"v":62.8},{"w":84.8,"v":18.9},{"w":87.4,"v":49.4},{"w":89.8,"v":91.5},{"w":92.1,"v":76.2},{"w":93.4,"v":77.5},{"w":95.4,"v":49.4},{"w":96.1,"v":26.6},{"w":97.8,"v":20.6},{"w":102,"v":46.7},{"w":106,"v":28},{"w":106.7,"v":48},{"w":108.9,"v":70.1},{"w":112,"v":45.4},{"w":113.7,"v":43.4},{"w":116.6,"v":72.1},{"w":121.2,"v":98.9},{"w":123.9,"v":94.9},{"w":125.9,"v":76.2},{"w":127.8,"v":22.6},{"w":128.9,"v":7.9},{"w":131.4,"v":64.1},{"w":133.5,"v":61.4},{"w":136.7,"v":17.9},{"w":139.8,"v":46.7},{"w":142,"v":59.4},{"w":145.7,"v":16.2},{"w":148.1,"v":20},{"w":150.6,"v":65.4},{"w":152.4,"v":28},{"w":153.9,"v":26},{"w":155.9,"v":48.7},{"w":158.7,"v":29.3},{"w":160.7,"v":37.3},{"w":163.9,"v":18.9},{"w":166.3,"v":49.4},{"w":168.5,"v":80.2},{"w":171.6,"v":90.2},{"w":172.9,"v":85.5},{"w":174.2,"v":52},{"w":175.5,"v":24},{"w":177.8,"v":21.3},{"w":180.8,"v":68.1},{"w":183.5,"v":25.3},{"w":185.7,"v":13.9},{"w":188.1,"v":22.6},{"w":190.8,"v":46.7},{"w":192.8,"v":90.9},{"w":194.8,"v":81.5},{"w":197.4,"v":90.2},{"w":198.7,"v":88.2},{"w":199.8,"v":88},{"w":201.4,"v":70.8},{"w":202.7,"v":38.7},{"w":202.9,"v":21},{"w":204.7,"v":24},{"w":207.3,"v":44},{"w":210,"v":41.4},{"w":212,"v":26},{"w":213.3,"v":32},{"w":214.6,"v":65.4},{"w":215.9,"v":88.2},{"w":217.2,"v":84.9},{"w":219.2,"v":62.8},{"w":220.2,"v":37.3},{"w":221.9,"v":35.3},{"w":223.9,"v":30.6},{"w":226.5,"v":7.9},{"w":228.5,"v":5.9},{"w":230.2,"v":22.6},{"w":231.8,"v":64.4},{"w":233.4,"v":52},{"w":234.7,"v":32.6},{"w":236.5,"v":46.7},{"w":239.8,"v":68.4},{"w":241.8,"v":52},{"w":244.4,"v":79.5},{"w":245.7,"v":90.2},{"w":247.7,"v":62.8},{"w":249,"v":22.6},{"w":250.6,"v":9.9},{"w":253.7,"v":29.3},{"w":255.7,"v":77.5},{"w":257,"v":78.8},{"w":258.3,"v":53.4},{"w":259.6,"v":20},{"w":261.6,"v":61.7},{"w":262.9,"v":61.4},{"w":264.9,"v":24.6},{"w":266.9,"v":35.3},{"w":269.6,"v":18.6},{"w":271.8,"v":15.2},{"w":274.2,"v":40},{"w":275.8,"v":65.4},{"w":276.9,"v":65.4},{"w":278.2,"v":42},{"w":280.2,"v":49.4},{"w":282.8,"v":81.5},{"w":284.2,"v":81.5},{"w":285.5,"v":56},{"w":287.5,"v":15.9},{"w":288.8,"v":7.9},{"w":291.4,"v":40},{"w":292.8,"v":54},{"w":294.1,"v":49.4},{"w":295.4,"v":64.8},{"w":297.4,"v":74.1},{"w":300,"v":90.2},{"w":302,"v":80.2},{"w":304.7,"v":76.2},{"w":306.7,"v":46.7},{"w":307.7,"v":25.3},{"w":310,"v":38.7},{"w":312.6,"v":80.2},{"w":314,"v":49.4},{"w":316,"v":26.9},{"w":318.6,"v":79.5},{"w":321.2,"v":84.9},{"w":323.9,"v":61.4},{"w":327.9,"v":34.7},{"w":330.5,"v":30},{"w":331.9,"v":41.4},{"w":333.8,"v":35.3},{"w":335.2,"v":15.9},{"w":337.8,"v":46},{"w":339.8,"v":38},{"w":340.7,"v":5.9},{"w":344.4,"v":7.2},{"w":346.4,"v":33.3},{"w":348.4,"v":84.2},{"w":351.7,"v":81.5},{"w":353.7,"v":86.9},{"w":356.4,"v":52},{"w":357.3,"v":42},{"w":361.7,"v":86.9},{"w":363.7,"v":62.8},{"w":365,"v":24.6},{"w":365.9,"v":24.6},{"w":368.9,"v":79.5},{"w":370.9,"v":49.4},{"w":372.9,"v":15.2},{"w":374.9,"v":49.4},{"w":377.6,"v":91.2},{"w":378.9,"v":85.5},{"w":381.5,"v":89.5},{"w":383.5,"v":80.2},{"w":385.5,"v":15.9},{"w":388.4,"v":35.3},{"w":390.8,"v":23.3},{"w":393.7,"v":62.1},{"w":396.1,"v":26.6},{"w":397.5,"v":52},{"w":399.9,"v":94.9},{"w":402.1,"v":88.9},{"w":403.9,"v":48},{"w":406.1,"v":40.7},{"w":408.8,"v":28.6},{"w":411.8,"v":61.4},{"w":412.7,"v":53.4},{"w":414,"v":56},{"w":416,"v":26.6},{"w":417.6,"v":20},{"w":421.1,"v":33.3},{"w":423.7,"v":12.6},{"w":429.3,"v":20},{"w":430,"v":15.2},{"w":431.7,"v":25.3},{"w":433.9,"v":60.8},{"w":435.3,"v":60.8},{"w":437,"v":48.3},{"w":439.9,"v":79.5},{"w":441.2,"v":84.5},{"w":443.2,"v":68.1},{"w":444.9,"v":50.4},{"w":448.5,"v":84.9},{"w":451.8,"v":87.5},{"w":452.9,"v":80.2},{"w":455.8,"v":85.5},{"w":458.2,"v":79.5},{"w":459.8,"v":37.3},{"w":460.8,"v":21.3},{"w":461.8,"v":36},{"w":463.7,"v":33.3},{"w":466,"v":18.6},{"w":468.8,"v":35.3},{"w":471.7,"v":52},{"w":473.7,"v":88.9},{"w":477,"v":80.2},{"w":480,"v":69.5},{"w":482.3,"v":72.1},{"w":483.9,"v":88.5},{"w":486,"v":78.8},{"w":487.6,"v":41.4},{"w":488.9,"v":25},{"w":489.8,"v":36},{"w":491.6,"v":38.7},{"w":493.6,"v":63.3},{"w":496.2,"v":38.7},{"w":497.1,"v":18.9},{"w":499.2,"v":24},{"w":501.5,"v":68.1},{"w":503.1,"v":88.9},{"w":505.5,"v":68.1},{"w":507.5,"v":64.8},{"w":509.7,"v":74.8},{"w":512.1,"v":69.5},{"w":513,"v":41.4},{"w":514.8,"v":32.6},{"w":517.4,"v":74.8},{"w":518.7,"v":87.5},{"w":521.4,"v":78.2},{"w":524,"v":76.2},{"w":525.3,"v":48},{"w":528,"v":64.1},{"w":530,"v":88.2},{"w":532.6,"v":94.9},{"w":534,"v":92.9},{"w":535.9,"v":62.8},{"w":537.9,"v":44},{"w":541.9,"v":28.6},{"w":544.8,"v":51.4},{"w":545.9,"v":42.7},{"w":547.2,"v":58.7},{"w":549.6,"v":46.7},{"w":549.7,"v":20}],
"d":[{"w":0,"v":85},{"w":2.5,"v":72},{"w":4.5,"v":62},{"w":6.5,"v":72},{"w":8.5,"v":50},{"w":11.5,"v":20},{"w":13.5,"v":50},{"w":15.5,"v":85},{"w":19,"v":88},{"w":21.5,"v":92},{"w":24.5,"v":76},{"w":26.5,"v":72},{"w":29,"v":50},{"w":33,"v":52},{"w":36,"v":30},{"w":38.5,"v":15},{"w":41,"v":50},{"w":43,"v":80},{"w":46,"v":74},{"w":50,"v":88},{"w":52.5,"v":70},{"w":54.5,"v":48},{"w":58,"v":60},{"w":60.5,"v":38},{"w":63,"v":70},{"w":65,"v":90},{"w":70,"v":75},{"w":72,"v":50},{"w":74,"v":22},{"w":76.5,"v":42},{"w":79,"v":88},{"w":82,"v":62},{"w":86,"v":22},{"w":88.5,"v":50},{"w":91,"v":88},{"w":94,"v":78},{"w":97,"v":40},{"w":99,"v":24},{"w":103,"v":42},{"w":107,"v":34},{"w":110,"v":65},{"w":114,"v":48},{"w":118,"v":68},{"w":122,"v":92},{"w":125.5,"v":92},{"w":127,"v":70},{"w":129,"v":35},{"w":131,"v":20},{"w":133,"v":52},{"w":134.5,"v":62},{"w":138,"v":22},{"w":141,"v":46},{"w":143.5,"v":55},{"w":147,"v":22},{"w":149,"v":24},{"w":151.5,"v":58},{"w":154.5,"v":34},{"w":157,"v":44},{"w":160,"v":33},{"w":162,"v":33},{"w":165,"v":22},{"w":168,"v":50},{"w":171,"v":80},{"w":174,"v":85},{"w":176,"v":55},{"w":178,"v":30},{"w":180,"v":28},{"w":182,"v":60},{"w":185,"v":30},{"w":187,"v":18},{"w":190,"v":25},{"w":192,"v":50},{"w":194.5,"v":85},{"w":197,"v":84},{"w":199,"v":85},{"w":201,"v":86},{"w":203,"v":60},{"w":204,"v":35},{"w":206,"v":25},{"w":208,"v":38},{"w":211,"v":42},{"w":213.5,"v":30},{"w":215,"v":50},{"w":217,"v":85},{"w":219,"v":78},{"w":220.5,"v":55},{"w":222,"v":42},{"w":225,"v":28},{"w":228,"v":10},{"w":230,"v":10},{"w":232,"v":30},{"w":233.5,"v":58},{"w":236,"v":40},{"w":238,"v":48},{"w":241,"v":64},{"w":243,"v":58},{"w":245.5,"v":82},{"w":247,"v":83},{"w":249,"v":50},{"w":251,"v":20},{"w":252.5,"v":14},{"w":255,"v":40},{"w":257,"v":72},{"w":258.5,"v":72},{"w":260.5,"v":40},{"w":262.5,"v":50},{"w":264,"v":58},{"w":266.5,"v":32},{"w":268,"v":33},{"w":271,"v":22},{"w":273,"v":20},{"w":275,"v":42},{"w":277.5,"v":62},{"w":279,"v":50},{"w":281,"v":48},{"w":284,"v":78},{"w":286,"v":70},{"w":288,"v":30},{"w":290,"v":12},{"w":292,"v":30},{"w":294,"v":50},{"w":297,"v":62},{"w":299,"v":80},{"w":301,"v":86},{"w":304,"v":78},{"w":306,"v":62},{"w":308,"v":36},{"w":310,"v":28},{"w":312.5,"v":60},{"w":314.5,"v":70},{"w":316.5,"v":38},{"w":319,"v":58},{"w":322,"v":82},{"w":325,"v":64},{"w":329,"v":42},{"w":332,"v":34},{"w":334,"v":36},{"w":336,"v":24},{"w":339,"v":36},{"w":341,"v":38},{"w":343,"v":12},{"w":346,"v":10},{"w":348,"v":38},{"w":350,"v":78},{"w":353,"v":82},{"w":356,"v":80},{"w":358,"v":50},{"w":360,"v":55},{"w":362,"v":80},{"w":364,"v":75},{"w":366,"v":40},{"w":369,"v":50},{"w":371,"v":72},{"w":373,"v":40},{"w":375,"v":25},{"w":377,"v":60},{"w":379,"v":84},{"w":382,"v":86},{"w":385,"v":76},{"w":387,"v":30},{"w":390,"v":28},{"w":392,"v":34},{"w":394,"v":50},{"w":396,"v":52},{"w":398,"v":38},{"w":401,"v":85},{"w":403.5,"v":85},{"w":405,"v":55},{"w":407.5,"v":42},{"w":410,"v":36},{"w":413,"v":55},{"w":416,"v":48},{"w":418,"v":24},{"w":420,"v":25},{"w":422,"v":28},{"w":425,"v":18},{"w":428,"v":18},{"w":431,"v":18},{"w":433,"v":30},{"w":436,"v":58},{"w":438,"v":48},{"w":441,"v":72},{"w":443,"v":78},{"w":445,"v":58},{"w":447,"v":58},{"w":450,"v":78},{"w":453,"v":84},{"w":456,"v":82},{"w":459,"v":78},{"w":461,"v":45},{"w":463,"v":30},{"w":465,"v":30},{"w":467,"v":22},{"w":470,"v":34},{"w":473,"v":65},{"w":475,"v":86},{"w":478,"v":80},{"w":481,"v":70},{"w":484,"v":80},{"w":486,"v":84},{"w":488,"v":58},{"w":490,"v":32},{"w":492,"v":38},{"w":495,"v":56},{"w":497,"v":42},{"w":499,"v":24},{"w":501,"v":32},{"w":503,"v":70},{"w":505,"v":84},{"w":508,"v":68},{"w":510,"v":68},{"w":513,"v":66},{"w":515,"v":42},{"w":518,"v":54},{"w":520,"v":78},{"w":523,"v":80},{"w":526,"v":62},{"w":528,"v":52},{"w":530,"v":72},{"w":533,"v":84},{"w":535,"v":90},{"w":537,"v":60},{"w":540,"v":42},{"w":543,"v":34},{"w":546,"v":46},{"w":548,"v":52},{"w":549.6,"v":54},{"w":549.9,"v":40}],
"yrs":[{"w":34,"t":"2011"},{"w":86.2,"t":"2012"},{"w":138,"t":"2013"},{"w":190,"t":"2014"},{"w":242,"t":"2015"},{"w":295,"t":"2016"},{"w":347,"t":"2017"},{"w":399.5,"t":"2018"},{"w":451.7,"t":"2019"},{"w":504,"t":"2020"},{"w":556,"t":"2021"}],
"topticks":[{"w":1},{"w":7.5},{"w":14},{"w":20.5},{"w":27},{"w":40.5},{"w":47},{"w":53.5},{"w":60},{"w":66.5},{"w":73},{"w":79.5},{"w":92.7},{"w":99.2},{"w":105.7},{"w":112.2},{"w":118.7},{"w":125.2},{"w":131.7},{"w":144.5},{"w":151},{"w":157.5},{"w":164},{"w":170.5},{"w":177},{"w":183.5},{"w":196.5},{"w":203},{"w":209.5},{"w":216},{"w":222.5},{"w":229},{"w":235.5},{"w":248.5},{"w":255},{"w":261.5},{"w":268},{"w":275},{"w":281.5},{"w":288},{"w":301.5},{"w":308},{"w":314.5},{"w":321},{"w":327.5},{"w":334},{"w":340.5},{"w":353.5},{"w":360},{"w":366.5},{"w":373},{"w":380},{"w":386.5},{"w":393},{"w":406},{"w":412.5},{"w":419},{"w":425.5},{"w":432},{"w":438.5},{"w":445},{"w":458},{"w":464.5},{"w":471},{"w":477.5},{"w":484},{"w":491},{"w":497.5},{"w":510.5},{"w":517},{"w":523.5},{"w":530},{"w":536.5},{"w":543},{"w":549.5},{"w":562.5},{"w":569},{"w":575.5},{"w":582},{"w":588.5},{"w":595}],
"botticks":[{"w":4},{"w":8},{"w":12},{"w":16},{"w":20},{"w":24},{"w":32},{"w":36},{"w":40},{"w":44},{"w":48},{"w":52},{"w":56},{"w":63},{"w":67},{"w":71},{"w":75},{"w":79},{"w":83},{"w":87},{"w":94},{"w":98},{"w":102},{"w":106},{"w":110},{"w":114},{"w":118},{"w":125},{"w":129},{"w":133},{"w":137},{"w":141},{"w":145},{"w":149},{"w":156},{"w":160},{"w":164},{"w":168},{"w":172},{"w":176},{"w":180},{"w":187},{"w":191},{"w":195},{"w":199},{"w":203},{"w":207},{"w":211},{"w":218},{"w":222},{"w":226},{"w":230},{"w":234},{"w":238},{"w":242},{"w":249},{"w":253},{"w":257},{"w":261},{"w":265},{"w":269},{"w":273},{"w":280},{"w":284},{"w":288},{"w":292},{"w":296},{"w":300},{"w":304},{"w":311},{"w":315},{"w":319},{"w":323},{"w":327},{"w":331},{"w":335},{"w":342},{"w":346},{"w":350},{"w":354},{"w":358},{"w":362},{"w":366},{"w":373},{"w":377},{"w":381},{"w":385},{"w":389},{"w":393},{"w":397},{"w":404},{"w":408},{"w":412},{"w":416},{"w":420},{"w":424},{"w":428},{"w":435},{"w":439},{"w":443},{"w":447},{"w":451},{"w":455},{"w":459},{"w":466},{"w":470},{"w":474},{"w":478},{"w":482},{"w":486},{"w":490},{"w":497},{"w":501},{"w":505},{"w":509},{"w":513},{"w":517},{"w":521},{"w":528},{"w":532},{"w":536},{"w":540},{"w":544},{"w":548},{"w":552},{"w":559},{"w":563},{"w":567},{"w":571},{"w":575},{"w":579},{"w":583},{"w":590},{"w":594},{"w":598}],
"pminor":[{"p":812.5},{"p":875},{"p":937.5},{"p":1062.5},{"p":1125},{"p":1187.5},{"p":1312.5},{"p":1375},{"p":1437.5},{"p":1562.5},{"p":1625},{"p":1687.5},{"p":1812.5},{"p":1875},{"p":1937.5},{"p":2062.5},{"p":2125}],
"sminor":[{"v":-3.1},{"v":3.1},{"v":6.25},{"v":12.5},{"v":18.75},{"v":31.25},{"v":37.5},{"v":43.75},{"v":56.25},{"v":62.5},{"v":68.75},{"v":81.25},{"v":87.5},{"v":93.75},{"v":100},{"v":104}],
"hl":[{"g":"lim","p":1849.5,"w":0,"w2":600.4},{"g":"grn","p":1813,"w":0,"w2":600.4},{"g":"red","p":1792.6,"w":0,"w2":600.4}],
"hs":[{"g":"band","p":1791,"w":36,"w2":554},{"g":"yel","p":1790,"w":36,"w2":554},{"g":"gy","p":1914,"w":524.7,"w2":536.6},{"g":"gt","p":1827,"w":538.6,"w2":548.5},{"g":"kl","p":1870,"w":543,"w2":551}],
"boxes":[{"g":"grnf","w":24.3,"w2":68.8,"p":1900.7,"p2":1837},{"g":"limf","w":10.3,"w2":27.4,"p":1937.5,"p2":1877},{"g":"dark","w":6.4,"w2":10.3,"p":1937.5,"p2":1877},{"g":"stopf","w":10.3,"w2":24.5,"p":1875.6,"p2":1820},{"g":"dark","w":6.4,"w2":10.3,"p":1875.6,"p2":1820},{"g":"rng","w":549.3,"w2":579.1,"p":1890.7,"p2":1847},{"g":"tag","w":606.5,"w2":627.2,"p":1840,"p2":1787}],
"rng":[{"w":535.8,"w2":547.3,"p":1951,"p2":1866}],
"notes":[{"g":"mod","w":3.2,"p":2138,"t":"[Modele : stocha 15153060 bollin]"},{"g":"ich","w":3.2,"p":2094.6,"t":"ICH(XAU/USD, 9, 26, 52)"},{"g":"ich","w":64,"p":2094.6,"t":"TL: 1.882,86"},{"g":"kl","w":96.2,"p":2094.6,"t":"KL: 1.872,67"},{"g":"cs","w":128.3,"p":2094.6,"t":"CS: 1.814,18"},{"g":"sa","w":161.4,"p":2094.6,"t":"SA: 1.877,76"},{"g":"sb","w":194.5,"p":2094.6,"t":"SB: 1.763,03"},{"g":"piv","w":3.2,"p":2051,"t":"PIVOT(XAU/USD,Pivot)(La période de base choisie pour le calcul du pivot doit être égale ou plus longue que la période du graphique)"},{"g":"bbt","w":3.2,"p":2008,"t":"BB(XAU/USD.Close, 20, 2)\u00a0\u00a0TL: 2.017,53\u00a0\u00a0BL: 1.810,50\u00a0\u00a0AL: 1.914,02"},{"g":"mva","w":3.2,"p":1964,"t":"MVA(XAU/USD.Close,200): 1.419,16"},{"g":"lt","w":12.3,"p":1907,"t":"Limite"},{"g":"st","w":12.3,"p":1848,"t":"Stop"},{"g":"gn","w":25,"p":1869,"t":"(26/11 01:25,216)"},{"g":"blk","w":551.8,"p":1869,"t":"range daily"},{"g":"blk","w":545,"p":1683,"t":"-93"},{"g":"blk","w":607.5,"p":1813.5,"t":"1.814,18"}],
"stnotes":[{"g":"s1","w":3.2,"v":102.1,"t":"STOCHASTIC(XAU/USD.m30, 5, 3, 3, MVA, MVA)(Disabled)"},{"g":"s2","w":3.2,"v":96.9,"t":"STOCHASTIC(XAU/USD, 5, 3, 3, MVA, MVA)\u00a0\u00a0K: 19,54\u00a0\u00a0D: 39,98"},{"g":"s3","w":3.2,"v":91.7,"t":"STOCHASTIC(XAU/USD.m5, 5, 3, 3, MVA, MVA)(Disabled)"},{"g":"s4","w":3.2,"v":86.5,"t":"STOCHASTIC(XAU/USD.H1, 5, 3, 3, MVA, MVA)(Disabled)"},{"g":"s5","w":3.2,"v":81.2,"t":"STOCHASTIC(XAU/USD.m15, 5, 3, 3, MVA, MVA)(Disabled)"},{"g":"s6","w":538.7,"v":-2.3,"t":"FXCM Marketscope © 2020"}],
"stlines":[{"g":"blk","v":100,"w":0,"w2":600.4},{"g":"blk","v":0,"w":0,"w2":538.5},{"g":"rd","v":80,"w":0,"w2":600.4},{"g":"rd","v":20,"w":0,"w2":600.4}],
"sttags":[{"g":"gb","t":"100","w":607.3,"w2":615.7,"v":101.7,"v2":96.9,"m":99.3},{"g":"rb","t":"80","w":607.3,"w2":612.9,"v":81.7,"v2":76.8,"m":79.3},{"g":"rb","t":"20","w":607.3,"w2":612.9,"v":21.8,"v2":17,"m":19.4},{"g":"gb","t":"0","w":607.3,"w2":610.5,"v":1.7,"v2":-2.8,"m":-0.5}]
},
"vconcat":[
{"width":1520,"height":412,"layer":[
{"data":{"name":"cloud"},"transform":[{"filter":"datum.a<=datum.b"}],"mark":{"type":"area","color":"#fde2cc","opacity":0.95},"encoding":{
"x":{"field":"w","type":"quantitative","scale":{"domain":[0,600.4],"nice":false,"zero":false},"axis":{"title":null,"orient":"bottom","offset":13,"values":[28,59,90,121,152,183,214,245,276,307,338,369,400,431,462,493,524,555,586],"labelExpr":"{'28':'','59':'25/06/2011','90':'28/01/2012','121':'01/09','152':'06/04/2013','183':'09/11','214':'14/06/2014','245':'17/01/2015','276':'22/08','307':'26/03/2016','338':'29/10','369':'03/06/2017','400':'06/01/2018','431':'11/08','462':'16/03/2019','493':'19/10','524':'23/05/2020','555':'26/12','586':'31/07/2021'}[datum.value]","labelOverlap":false,"labelPadding":21,"tickSize":-13,"tickColor":"#555555","domainColor":"#555555","grid":true,"gridColor":"#e2e2e2","gridWidth":1.5}},
"y":{"field":"a","type":"quantitative","scale":{"domain":[787,2165],"nice":false,"zero":false},"axis":{"title":null,"orient":"right","offset":15,"values":[1000,1250,1500,1750,2000],"labelExpr":"datum.value==1000?'1.000,00':datum.value==1250?'1.250,00':datum.value==1500?'1.500,00':datum.value==1750?'1.750,00':'2.000,00'","tickSize":-15,"tickColor":"#555555","domainColor":"#555555","labelPadding":18,"grid":true,"gridColor":"#e2e2e2","gridWidth":1.5}},
"y2":{"field":"b"}}},
{"data":{"name":"cloud"},"transform":[{"filter":"datum.a>=datum.b"}],"mark":{"type":"area","color":"#e1cdfa","opacity":0.95},"encoding":{"x":{"field":"w","type":"quantitative"},"y":{"field":"a","type":"quantitative"},"y2":{"field":"b"}}},
{"data":{"name":"cloud"},"mark":{"type":"line","color":"#ff8000","strokeWidth":1.2},"encoding":{"x":{"field":"w","type":"quantitative"},"y":{"field":"a","type":"quantitative"}}},
{"data":{"name":"cloud"},"mark":{"type":"line","color":"#8000ff","strokeWidth":1.2},"encoding":{"x":{"field":"w","type":"quantitative"},"y":{"field":"b","type":"quantitative"}}},
{"data":{"name":"ma"},"mark":{"type":"line","color":"#bdb97f","strokeWidth":1.3,"interpolate":"monotone"},"encoding":{"x":{"field":"w","type":"quantitative"},"y":{"field":"p","type":"quantitative"}}},
{"data":{"name":"rng"},"mark":{"type":"rect","fill":"#f0f0f0","stroke":"#000000","strokeWidth":1.2},"encoding":{"x":{"field":"w","type":"quantitative"},"x2":{"field":"w2"},"y":{"field":"p","type":"quantitative"},"y2":{"field":"p2"}}},
{"data":{"name":"chikou"},"mark":{"type":"line","color":"#3c0a46","strokeWidth":1.1},"encoding":{"x":{"field":"w","type":"quantitative"},"y":{"field":"p","type":"quantitative"}}},
{"data":{"name":"bars"},"mark":{"type":"rule","strokeWidth":1},"encoding":{"x":{"field":"w","type":"quantitative"},"y":{"field":"l","type":"quantitative"},"y2":{"field":"h"},"color":{"condition":{"test":"datum.c>=datum.o","value":"#0b63c4"},"value":"#e00012"}}},
{"data":{"name":"bars"},"mark":{"type":"bar","size":2.6},"encoding":{"x":{"field":"w","type":"quantitative"},"y":{"field":"o","type":"quantitative"},"y2":{"field":"c"},"color":{"condition":{"test":"datum.c>=datum.o","value":"#0b63c4"},"value":"#e00012"}}},
{"data":{"name":"kijun"},"mark":{"type":"line","color":"#0a84ff","strokeWidth":1.2},"encoding":{"x":{"field":"w","type":"quantitative"},"y":{"field":"p","type":"quantitative"}}},
{"data":{"name":"tenkan"},"mark":{"type":"line","color":"#ff0000","strokeWidth":1.2},"encoding":{"x":{"field":"w","type":"quantitative"},"y":{"field":"p","type":"quantitative"}}},
{"data":{"name":"up"},"mark":{"type":"line","color":"#ffff00","strokeWidth":2.6,"interpolate":"monotone"},"encoding":{"x":{"field":"w","type":"quantitative"},"y":{"field":"p","type":"quantitative"}}},
{"data":{"name":"lo"},"mark":{"type":"line","color":"#ffff00","strokeWidth":2.6,"interpolate":"monotone"},"encoding":{"x":{"field":"w","type":"quantitative"},"y":{"field":"p","type":"quantitative"}}},
{"data":{"name":"mid"},"mark":{"type":"line","color":"#ffff00","strokeWidth":2.6,"strokeDash":[6,4],"interpolate":"monotone"},"encoding":{"x":{"field":"w","type":"quantitative"},"y":{"field":"p","type":"quantitative"}}},
{"data":{"name":"hs"},"mark":{"type":"rule","strokeWidth":1.6},"encoding":{"x":{"field":"w","type":"quantitative"},"x2":{"field":"w2"},"y":{"field":"p","type":"quantitative"},"color":{"field":"g","legend":null,"scale":{"domain":["band","yel","gy","gt","kl","lim","grn","red","grnf","limf","dark","stopf","rng","tag","mod","ich","cs","sa","sb","piv","bbt","mva","lt","st","gn","blk"],"range":["#c9c9a0","#ffff00","#b4b4b4","#8c8ca8","#2f8fef","#d9bfe8","#a8d88a","#ff5050","#d9e6c9","#dcc8f0","#3c3c3c","#f47272","#d8d8d8","#66c2ff","#45458c","#ff0000","#3c0a46","#ff8000","#8000ff","#000000","#ffff33","#c9c48e","#a486c4","#b84a4a","#84a070","#1c1c1c"]}}}},
{"data":{"name":"hl"},"mark":{"type":"rule","strokeWidth":1.2,"strokeDash":[5,3]},"encoding":{"x":{"field":"w","type":"quantitative"},"x2":{"field":"w2"},"y":{"field":"p","type":"quantitative"},"color":{"field":"g","legend":null}}},
{"data":{"name":"boxes"},"mark":{"type":"rect"},"encoding":{"x":{"field":"w","type":"quantitative"},"x2":{"field":"w2"},"y":{"field":"p","type":"quantitative"},"y2":{"field":"p2"},"color":{"field":"g","legend":null}}},
{"data":{"values":[{"w":549.8,"p":1931}]},"mark":{"type":"point","filled":true,"opacity":1,"color":"#e6102a","size":529,"shape":"M-0.42,-1 L0.42,-1 L0.42,0 L1,0 L0,1 L-1,0 L-0.42,0 Z"},"encoding":{"x":{"field":"w","type":"quantitative"},"y":{"field":"p","type":"quantitative"}}},
{"data":{"values":[{"w":549.8,"p":1742.4}]},"mark":{"type":"point","filled":true,"opacity":1,"color":"#e0001f","size":529,"shape":"M-0.42,1 L0.42,1 L0.42,0 L1,0 L0,-1 L-1,0 L-0.42,0 Z"},"encoding":{"x":{"field":"w","type":"quantitative"},"y":{"field":"p","type":"quantitative"}}},
{"data":{"name":"notes"},"mark":{"type":"text","align":"left","baseline":"middle"},"encoding":{"x":{"field":"w","type":"quantitative"},"y":{"field":"p","type":"quantitative"},"text":{"field":"t"},"color":{"field":"g","legend":null}}},
{"data":{"values":[{"w":0,"w2":606.1}]},"mark":{"type":"rule","color":"#555555","strokeWidth":1.5},"encoding":{"x":{"field":"w","type":"quantitative"},"x2":{"field":"w2"},"y":{"datum":2205,"type":"quantitative"}}},
{"data":{"name":"topticks"},"mark":{"type":"rule","color":"#555555"},"encoding":{"x":{"field":"w","type":"quantitative"},"y":{"datum":2205,"type":"quantitative"},"y2":{"datum":2185}}},
{"data":{"name":"botticks"},"mark":{"type":"rule","color":"#555555"},"encoding":{"x":{"field":"w","type":"quantitative"},"y":{"datum":763.6,"type":"quantitative"},"y2":{"datum":743.5}}},
{"data":{"name":"pminor"},"mark":{"type":"rule","color":"#555555"},"encoding":{"x":{"datum":603.8,"type":"quantitative"},"x2":{"datum":606.1},"y":{"field":"p","type":"quantitative"}}},
{"data":{"name":"yrs"},"mark":{"type":"point","shape":"triangle-down","filled":true,"opacity":1,"color":"#f5a623","size":90},"encoding":{"x":{"field":"w","type":"quantitative"},"y":{"datum":2188,"type":"quantitative"}}},
{"data":{"name":"yrs"},"mark":{"type":"text","fontSize":10.5,"color":"#3f3f88","dx":-1},"encoding":{"x":{"field":"w","type":"quantitative"},"y":{"datum":2238.5,"type":"quantitative"},"text":{"field":"t"}}},
{"data":{"values":[{"w":0.1,"t":"08/05/2010"}]},"mark":{"type":"text","fontSize":10.5,"color":"#3f3f88","align":"left"},"encoding":{"x":{"field":"w","type":"quantitative"},"y":{"datum":696.7,"type":"quantitative"},"text":{"field":"t"}}}
]},
{"width":1520,"height":274,"layer":[
{"data":{"name":"stlines"},"mark":{"type":"rule","strokeWidth":1.4},"encoding":{
"x":{"field":"w","type":"quantitative","scale":{"domain":[0,600.4],"nice":false,"zero":false},"axis":{"title":null,"values":[28,59,90,121,152,183,214,245,276,307,338,369,400,431,462,493,524,555,586],"labels":false,"ticks":false,"domain":false,"grid":true,"gridColor":"#e2e2e2","gridWidth":1.5}},
"x2":{"field":"w2"},
"y":{"field":"v","type":"quantitative","scale":{"domain":[-4.7,105.3],"nice":false,"zero":false},"axis":{"title":null,"orient":"right","offset":15,"values":[25,50,75],"labelExpr":"datum.value==25?'25,00':datum.value==50?'50,00':'75,00'","tickSize":-15,"tickColor":"#555555","domainColor":"#555555","labelPadding":18,"grid":true,"gridColor":"#e2e2e2","gridWidth":1.5}},
"color":{"field":"g","legend":null,"scale":{"domain":["blk","rd","s1","s2","s3","s4","s5","s6","gb","rb"],"range":["#000000","#ff5050","#ff0000","#2a8c90","#0000ff","#ff80ff","#00ff00","#503c90","#999999","#ff5555"]}}}},
{"data":{"name":"d"},"mark":{"type":"line","color":"#008080","strokeWidth":2,"strokeDash":[2,3],"interpolate":"monotone"},"encoding":{"x":{"field":"w","type":"quantitative"},"y":{"field":"v","type":"quantitative"}}},
{"data":{"name":"k"},"mark":{"type":"line","color":"#008080","strokeWidth":2.6,"interpolate":"monotone"},"encoding":{"x":{"field":"w","type":"quantitative"},"y":{"field":"v","type":"quantitative"}}},
{"data":{"name":"stnotes"},"mark":{"type":"text","align":"left","baseline":"middle"},"encoding":{"x":{"field":"w","type":"quantitative"},"y":{"field":"v","type":"quantitative"},"text":{"field":"t"},"color":{"field":"g","legend":null}}},
{"data":{"name":"sminor"},"mark":{"type":"rule","color":"#555555"},"encoding":{"x":{"datum":603.8,"type":"quantitative"},"x2":{"datum":606.1},"y":{"field":"v","type":"quantitative"}}},
{"data":{"name":"sttags"},"mark":{"type":"rect"},"encoding":{"x":{"field":"w","type":"quantitative"},"x2":{"field":"w2"},"y":{"field":"v","type":"quantitative"},"y2":{"field":"v2"},"color":{"field":"g","legend":null}}},
{"data":{"name":"sttags"},"mark":{"type":"text","align":"left","baseline":"middle","fontSize":10.5,"color":"#111111"},"encoding":{"x":{"field":"w","type":"quantitative"},"y":{"field":"m","type":"quantitative"},"text":{"field":"t"}}}
]}
]}
